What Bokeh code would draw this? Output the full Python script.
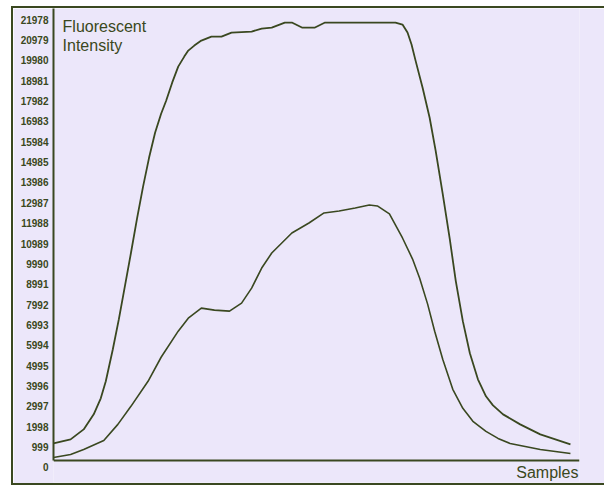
from bokeh.plotting import figure
from bokeh.models import Range1d, LinearAxis, FixedTicker, Label, Span
from bokeh.embed import file_html
from bokeh.resources import INLINE

# ---- data ----
upper_x = [0, 4.25, 7.5, 10, 11.75, 13, 14.75, 16.25, 17.75, 19.25, 20.75, 22.25, 23.75,
           25.25, 26.75, 28, 29.5, 31, 32.5, 33.5, 35, 36.75, 39.25, 41.75, 44.25, 49.25,
           51.75, 54.25, 57.5, 59.25, 61.75, 65, 67.5, 85, 86.75, 88, 89, 90, 91.75, 93.5,
           95, 96.75, 98.5, 100, 101.75, 103.5, 105.5, 107.5, 109.25, 111.75, 116, 121, 128.5]
upper_y = [836, 1033, 1524, 2262, 3049, 3884, 5458, 6933, 8556, 10178, 11850, 13423, 14849,
           16079, 17013, 17652, 18537, 19324, 19816, 20111, 20356, 20602, 20799, 20799, 20996,
           21045, 21192, 21241, 21487, 21487, 21241, 21241, 21487, 21487, 21389, 20996, 20406,
           19619, 18291, 16816, 15194, 13079, 10867, 8801, 6835, 5261, 3983, 3147, 2704, 2262,
           1770, 1278, 787]

lower_x = [0, 4.25, 7.5, 12.5, 16, 19.25, 23.5, 26.75, 31, 33.5, 36.75, 40, 43.75, 46.75,
           49.25, 51.75, 54.25, 59.25, 63.5, 67.25, 71, 75, 78.5, 80.5, 83.5, 86.75, 89.25,
           91, 93, 94.75, 96.75, 99.25, 101.75, 104.25, 107.5, 110.5, 113.5, 121, 128.5]
lower_y = [148, 295, 541, 983, 1770, 2655, 3884, 5064, 6343, 6982, 7474, 7376, 7326, 7720,
           8457, 9441, 10178, 11162, 11653, 12145, 12243, 12391, 12538, 12489, 12096, 10916,
           9883, 8949, 7671, 6343, 4966, 3491, 2557, 1918, 1426, 1082, 836, 541, 344]

tick_values = [0, 999, 1998, 2997, 3996, 4995, 5994, 6993, 7992, 8991, 9990, 10989, 11988,
               12987, 13986, 14985, 15984, 16983, 17982, 18981, 19980, 20979, 21978]
tick_labels = ["0", "999", "1998", "2997", "3996", "4995", "5994", "6993", "7992", "8991",
               "9990", "10989", "11988", "12987", "13986", "14985", "15984", "16983",
               "17982", "18981", "19980", "20979", "21978"]
y_title = ["Fluorescent", "Intensity"]
x_title = "Samples"

INK = "#3a4820"
BG = "#ece7fa"

Y_START, Y_END = -1082, 22176
LABEL_SHIFT = 344  # tick labels sit a few pixels below their tick value

p = figure(width=593, height=479, output_backend="svg", toolbar_location=None,
           x_range=Range1d(0, 130.75), y_range=Range1d(Y_START, Y_END),
           x_axis_location=None, y_axis_location=None,
           min_border_left=40, min_border_right=27, min_border_top=0, min_border_bottom=5,
           background_fill_color=BG, border_fill_color=BG, outline_line_color=None)
p.extra_y_ranges = {"labels": Range1d(Y_START + LABEL_SHIFT, Y_END + LABEL_SHIFT)}
p.grid.visible = False
p.styles = {"margin-left": "11px", "margin-top": "6px",
            "border-top": f"2px solid {INK}", "border-left": f"2px solid {INK}",
            "border-bottom": f"2px solid {INK}"}

# vertical axis line (from 0 up to the top)
yline = LinearAxis(ticker=FixedTicker(ticks=[]), bounds=(0, Y_END),
                   axis_line_color=INK, axis_line_width=2,
                   major_tick_line_color=None, minor_tick_line_color=None,
                   major_tick_in=0, major_tick_out=0, minor_tick_in=0, minor_tick_out=0,
                   major_label_standoff=0, major_label_text_font_size="0px")
p.add_layout(yline, "left")

# tick labels
ylab = LinearAxis(y_range_name="labels", ticker=FixedTicker(ticks=tick_values),
                  major_label_overrides={v: s for v, s in zip(tick_values, tick_labels)},
                  axis_line_color=None, major_tick_line_color=None, minor_tick_line_color=None,
                  major_tick_in=0, major_tick_out=0, minor_tick_in=0, minor_tick_out=0,
                  major_label_standoff=5, major_label_text_font="Liberation Sans",
                  major_label_text_font_style="bold", major_label_text_font_size="10px",
                  major_label_text_color=INK)
p.add_layout(ylab, "left")

# horizontal axis line at zero
p.add_layout(Span(location=0, dimension="width", line_color=INK, line_width=2))

p.line(upper_x, upper_y, line_color=INK, line_width=1.8)
p.line(lower_x, lower_y, line_color=INK, line_width=1.6)

p.add_layout(Label(x=2.25, y=21291, text=y_title[0], text_font="Liberation Sans",
                   text_font_size="16px", text_color=INK, text_baseline="alphabetic"))
p.add_layout(Label(x=2.25, y=20356, text=y_title[1], text_font="Liberation Sans",
                   text_font_size="16px", text_color=INK, text_baseline="alphabetic"))
p.add_layout(Label(x=130.5, y=-590, text=x_title, text_font="Liberation Sans",
                   text_font_size="16px", text_color=INK, text_align="right",
                   text_baseline="middle"))

html = file_html(p, INLINE)
html = html.replace("<body>", f'<body style="background-color:{BG}">', 1)
open("out.html", "w").write(html)
